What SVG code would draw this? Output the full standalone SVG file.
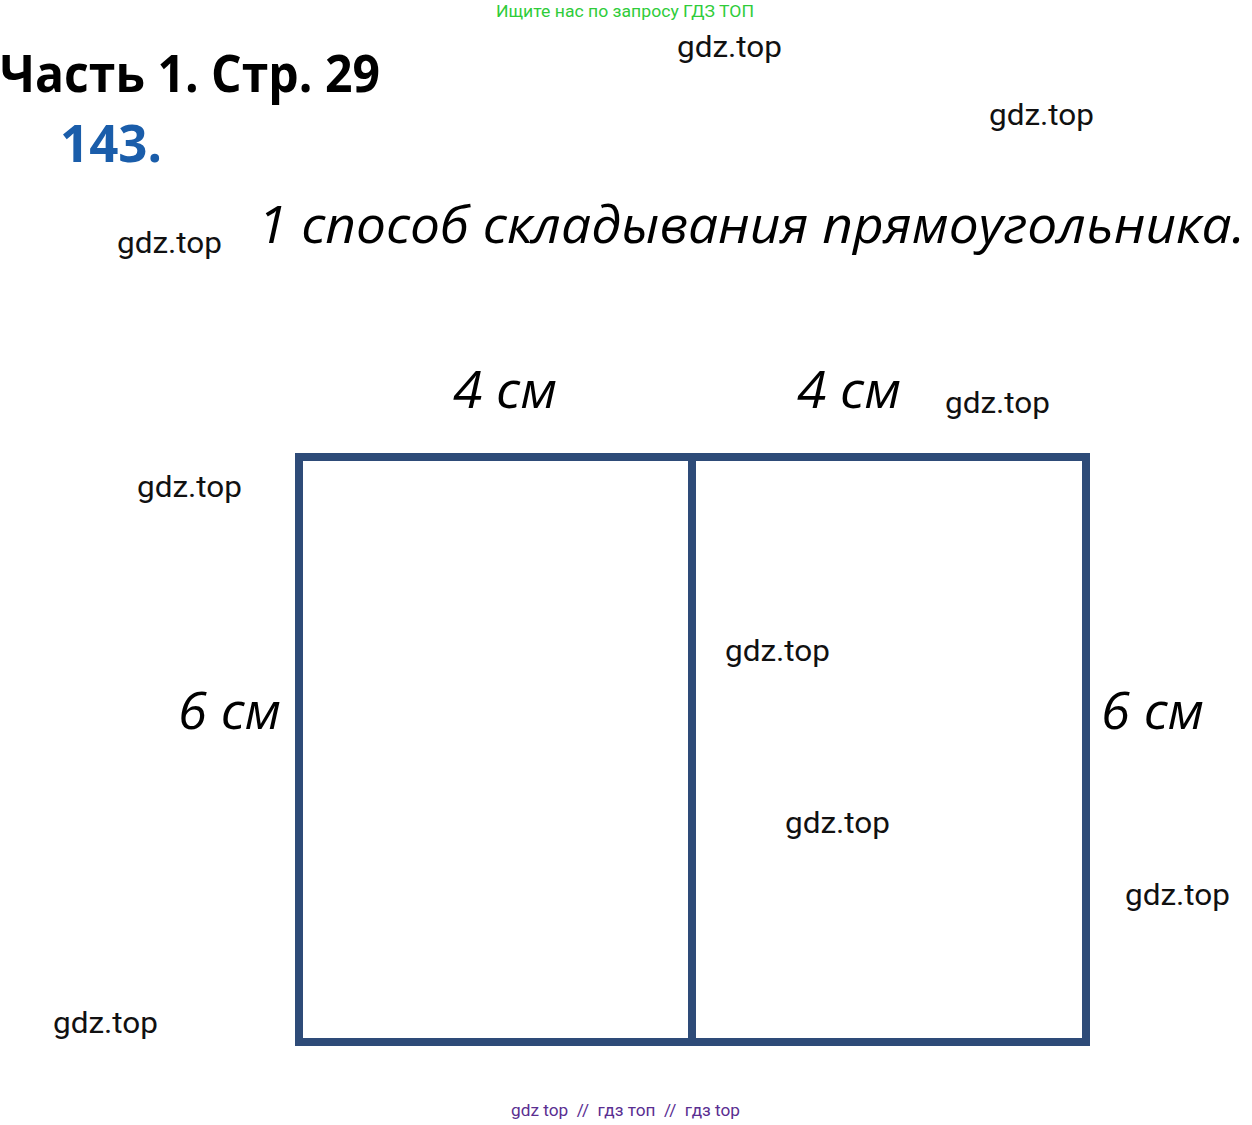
<svg xmlns="http://www.w3.org/2000/svg" width="1252" height="1125" viewBox="0 0 1252 1125">
<style>
.wm{font-family:Roboto,"Liberation Sans",sans-serif;font-size:30px;fill:#111}
.lbl{font-family:"Open Sans","Liberation Sans",sans-serif;font-style:italic;font-size:52px;fill:#000}
.line{stroke:#2E4B78;stroke-width:8;fill:none;stroke-linecap:square}
</style>
<rect width="1252" height="1125" fill="#fff"/>
<g id="header">
<text x="496" y="17" font-family="Roboto,'Liberation Sans',sans-serif" font-size="17" fill="#2FCC3A" textLength="258" lengthAdjust="spacingAndGlyphs">Ищите нас по запросу ГДЗ ТОП</text>
</g>
<g id="title">
<text x="0" y="92" font-family="'Open Sans','Liberation Sans',sans-serif" font-weight="bold" font-size="52" fill="#000" textLength="380" lengthAdjust="spacingAndGlyphs">Часть 1. Стр. 29</text>
</g>
<g id="number">
<text x="60" y="162" font-family="'Open Sans','Liberation Sans',sans-serif" font-weight="bold" font-size="52" fill="#1A5DAA" textLength="102" lengthAdjust="spacingAndGlyphs">143.</text>
</g>
<g id="subtitle">
<text x="258" y="243" class="lbl" textLength="987" lengthAdjust="spacingAndGlyphs">1 способ складывания прямоугольника.</text>
</g>
<g id="rectangle">
<rect x="299" y="457" width="787" height="585" class="line"/>
</g>
<g id="connectors">
<line x1="692" y1="457" x2="692" y2="1042" class="line"/>
</g>
<g id="labels">
<text x="453" y="408" class="lbl" textLength="104" lengthAdjust="spacingAndGlyphs">4 см</text>
<text x="797" y="408" class="lbl" textLength="104" lengthAdjust="spacingAndGlyphs">4 см</text>
<text x="178" y="729" class="lbl" textLength="103" lengthAdjust="spacingAndGlyphs">6 см</text>
<text x="1101" y="729" class="lbl" textLength="103" lengthAdjust="spacingAndGlyphs">6 см</text>
</g>
<g id="watermarks">
<text x="677" y="57" class="wm" textLength="105" lengthAdjust="spacingAndGlyphs">gdz.top</text>
<text x="989" y="125" class="wm" textLength="105" lengthAdjust="spacingAndGlyphs">gdz.top</text>
<text x="117" y="253" class="wm" textLength="105" lengthAdjust="spacingAndGlyphs">gdz.top</text>
<text x="945" y="413" class="wm" textLength="105" lengthAdjust="spacingAndGlyphs">gdz.top</text>
<text x="137" y="497" class="wm" textLength="105" lengthAdjust="spacingAndGlyphs">gdz.top</text>
<text x="725" y="661" class="wm" textLength="105" lengthAdjust="spacingAndGlyphs">gdz.top</text>
<text x="785" y="833" class="wm" textLength="105" lengthAdjust="spacingAndGlyphs">gdz.top</text>
<text x="1125" y="905" class="wm" textLength="105" lengthAdjust="spacingAndGlyphs">gdz.top</text>
<text x="53" y="1033" class="wm" textLength="105" lengthAdjust="spacingAndGlyphs">gdz.top</text>
</g>
<g id="footer">
<text x="511" y="1116" font-family="Roboto,'Liberation Sans',sans-serif" font-size="17" fill="#5A2E91" textLength="229" lengthAdjust="spacingAndGlyphs" xml:space="preserve">gdz top  //  гдз топ  //  гдз top</text>
</g>
</svg>
